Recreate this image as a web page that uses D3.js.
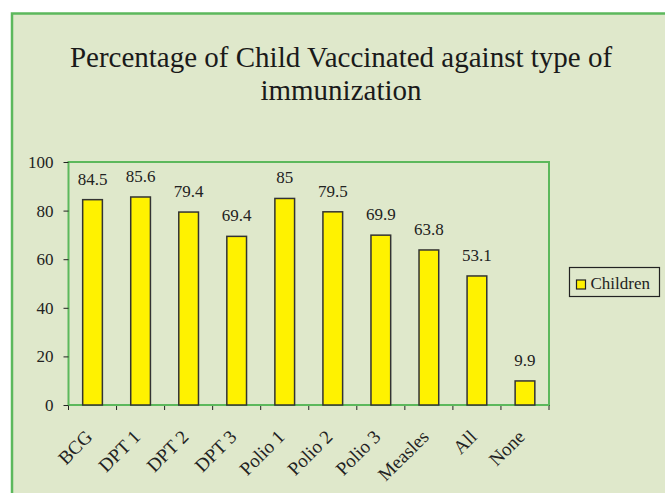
<!DOCTYPE html>
<html>
<head>
<meta charset="utf-8">
<script src="https://cdn.jsdelivr.net/npm/d3@7"></script>
<style>
  body { margin: 0; background: #ffffff; }
  svg { display: block; }
</style>
</head>
<body>
<div id="d3-container"></div>
<script>
/* CONSTANTS AND GLOBALS */

const
  width = 665,
  height = 493,
  margin = { top: 162, right: 116, bottom: 88, left: 68.5 },
  innerWidth = width - margin.left - margin.right,
  innerHeight = height - margin.top - margin.bottom,
  frameX = 12,
  frameY = 13.5,
  bgColor = "#dfe8cb",
  greenLine = "#5cb85c",
  barColor = "#fff200",
  serif = "'Liberation Serif', 'DejaVu Serif', serif";

// chart data
const categories = ["BCG", "DPT 1", "DPT 2", "DPT 3", "Polio 1", "Polio 2", "Polio 3", "Measles", "All", "None"];
const children = [84.5, 85.6, 79.4, 69.4, 85, 79.5, 69.9, 63.8, 53.1, 9.9];
const yTicks = [0, 20, 40, 60, 80, 100];
const seriesName = "Children";
const titleLines = ["Percentage of Child Vaccinated against type of", "immunization"];

let svg;
let plot;
let x;
let y;

/* INITIALIZING FUNCTION */
function init() {
  svg = d3
    .select("#d3-container")
    .append("svg")
    .attr("width", width)
    .attr("height", height);

  // chart area background, its frame only shows on the left and top
  svg.append("rect")
    .attr("x", frameX)
    .attr("y", frameY)
    .attr("width", width - frameX)
    .attr("height", height - frameY)
    .attr("fill", bgColor);

  svg.append("path")
    .attr("d", `M${frameX},${height} V${frameY} H${width}`)
    .attr("fill", "none")
    .attr("stroke", greenLine)
    .attr("stroke-width", 2.5);

  // title
  svg.append("text")
    .attr("text-anchor", "middle")
    .attr("font-family", serif)
    .attr("font-size", 29)
    .attr("fill", "#1a1a1a")
    .selectAll("tspan")
    .data(titleLines)
    .join("tspan")
    .attr("x", 341)
    .attr("y", (d, i) => 67 + i * 33)
    .text(d => d);

  // SCALES
  x = d3.scaleBand()
    .domain(categories)
    .range([0, innerWidth])
    .paddingInner(0.59)
    .paddingOuter(0.295);

  y = d3.scaleLinear()
    .domain([0, 100])
    .range([innerHeight, 0]);

  plot = svg.append("g")
    .attr("transform", `translate(${margin.left},${margin.top})`);

  draw();
}

function draw() {
  // plot area border
  plot.append("rect")
    .attr("width", innerWidth)
    .attr("height", innerHeight)
    .attr("fill", "none")
    .attr("stroke", greenLine)
    .attr("stroke-width", 2);

  // y axis
  const yAxis = d3.axisLeft(y).tickValues(yTicks).tickSize(5).tickPadding(10);
  const gy = plot.append("g").call(yAxis).attr("font-family", serif).attr("font-size", 17);
  gy.select(".domain").remove();
  gy.selectAll("line").attr("stroke", "#222");
  gy.selectAll("text").attr("fill", "#222");

  // x axis ticks at category boundaries
  const step = x.step();
  const bounds = d3.range(categories.length + 1).map(i => i * step);
  plot.append("g")
    .selectAll("line")
    .data(bounds)
    .join("line")
    .attr("x1", d => d)
    .attr("x2", d => d)
    .attr("y1", innerHeight)
    .attr("y2", innerHeight + 5)
    .attr("stroke", "#222");

  plot.append("line")
    .attr("x1", 0)
    .attr("x2", innerWidth)
    .attr("y1", innerHeight)
    .attr("y2", innerHeight)
    .attr("stroke", greenLine)
    .attr("stroke-width", 2);

  // bars
  plot.selectAll("rect.bar")
    .data(children)
    .join("rect")
    .attr("class", "bar")
    .attr("x", (d, i) => x(categories[i]))
    .attr("y", d => y(d))
    .attr("width", x.bandwidth())
    .attr("height", d => innerHeight - y(d))
    .attr("fill", barColor)
    .attr("stroke", "#333")
    .attr("stroke-width", 1.5);

  // value labels
  plot.selectAll("text.val")
    .data(children)
    .join("text")
    .attr("class", "val")
    .attr("x", (d, i) => x(categories[i]) + x.bandwidth() / 2)
    .attr("y", d => y(d) - 15)
    .attr("text-anchor", "middle")
    .attr("font-family", serif)
    .attr("font-size", 17)
    .attr("fill", "#222")
    .text(d => d);

  // rotated category labels
  plot.selectAll("text.cat")
    .data(categories)
    .join("text")
    .attr("class", "cat")
    .attr("text-anchor", "end")
    .attr("transform", d => `translate(${x(d) + x.bandwidth() / 2 + 1},${innerHeight + 33}) rotate(-45)`)
    .attr("font-family", serif)
    .attr("font-size", 19)
    .attr("fill", "#222")
    .text(d => d);

  // legend
  const legend = svg.append("g").attr("transform", "translate(569.5,267.5)");
  legend.append("rect")
    .attr("width", 90)
    .attr("height", 29)
    .attr("fill", "none")
    .attr("stroke", "#222")
    .attr("stroke-width", 1.2);
  legend.append("rect")
    .attr("x", 7)
    .attr("y", 12.5)
    .attr("width", 9)
    .attr("height", 9)
    .attr("fill", barColor)
    .attr("stroke", "#222")
    .attr("stroke-width", 1.2);
  legend.append("text")
    .attr("x", 21)
    .attr("y", 21.5)
    .attr("font-family", serif)
    .attr("font-size", 17)
    .attr("fill", "#222")
    .text(seriesName);
}

init();
</script>
</body>
</html>
